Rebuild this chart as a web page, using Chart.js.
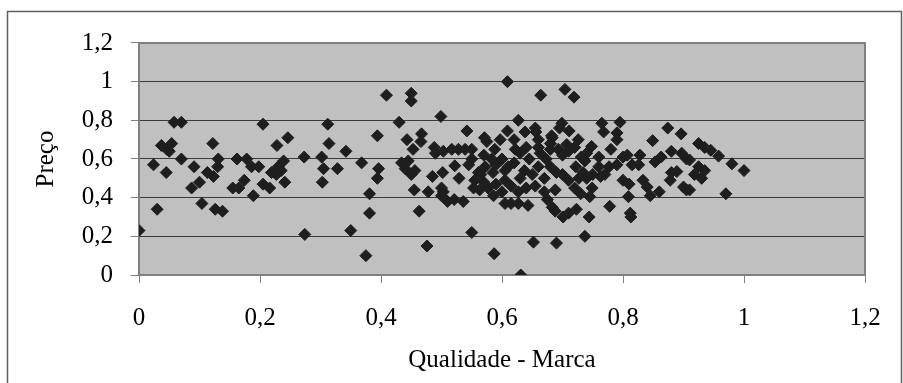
<!DOCTYPE html>
<html>
<head>
<meta charset="utf-8">
<script src="https://cdn.jsdelivr.net/npm/chart.js@4"></script>
<style>
  html, body { margin: 0; padding: 0; background: #fff; }
  #wrap { width: 903px; height: 383px; position: relative; }
</style>
</head>
<body>
<div id="wrap"><canvas id="chart" width="903" height="383"></canvas></div>
<script>
// values
var qualidade = [
  0.00, 0.03, 0.024, 0.045, 0.037, 0.046, 0.054, 0.05, 0.058, 0.07, 0.07, 0.091, 0.087, 0.10, 0.104, 0.113,
  0.123, 0.122, 0.131, 0.13, 0.126, 0.138, 0.155, 0.162, 0.178, 0.186, 0.198, 0.174, 0.165, 0.189, 0.205, 0.205,
  0.216, 0.219, 0.228, 0.246, 0.239, 0.23, 0.227, 0.241, 0.235, 0.273, 0.274, 0.312, 0.314, 0.302, 0.305, 0.303,
  0.328, 0.342, 0.368, 0.35, 0.375, 0.381, 0.381, 0.396, 0.394, 0.394, 0.409, 0.43, 0.45, 0.45, 0.443, 0.467,
  0.466, 0.453, 0.434, 0.445, 0.44, 0.456, 0.45, 0.455, 0.463, 0.476, 0.478, 0.485, 0.499, 0.488, 0.49, 0.503,
  0.502, 0.503, 0.50, 0.51, 0.609, 0.664, 0.627, 0.542, 0.609, 0.571, 0.597, 0.575, 0.638, 0.655, 0.656, 0.682,
  0.517, 0.528, 0.539, 0.55, 0.522, 0.545, 0.529, 0.50, 0.521, 0.536, 0.55, 0.587, 0.631, 0.652, 0.69, 0.561,
  0.555, 0.553, 0.565, 0.572, 0.583, 0.588, 0.60, 0.577, 0.586, 0.563, 0.585, 0.605, 0.61, 0.605, 0.615, 0.627,
  0.643, 0.605, 0.615, 0.627, 0.622, 0.63, 0.64, 0.645, 0.637, 0.63, 0.66, 0.663, 0.673, 0.66, 0.655, 0.67,
  0.675, 0.683, 0.68, 0.68, 0.704, 0.719, 0.737, 0.699, 0.695, 0.711, 0.726, 0.683, 0.693, 0.707, 0.71, 0.70,
  0.71, 0.688, 0.688, 0.701, 0.71, 0.723, 0.744, 0.745, 0.722, 0.731, 0.737, 0.727, 0.734, 0.74, 0.749, 0.748,
  0.76, 0.76, 0.763, 0.765, 0.768, 0.78, 0.777, 0.77, 0.79, 0.795, 0.79, 0.80, 0.79, 0.778, 0.807, 0.80,
  0.81, 0.809, 0.812, 0.813, 0.815, 0.828, 0.826, 0.833, 0.84, 0.845, 0.849, 0.853, 0.86, 0.874, 0.896, 0.863,
  0.88, 0.897, 0.905, 0.91, 0.889, 0.88, 0.878, 0.90, 0.905, 0.91, 0.925, 0.935, 0.945, 0.958, 0.925, 0.935,
  0.918, 0.93, 0.98, 1.00, 0.97, 0.57, 0.59, 0.62, 0.65, 0.67, 0.69, 0.72, 0.73, 0.75, 0.60, 0.64,
  0.70, 0.72, 0.74, 0.66, 0.68, 0.62, 0.57, 0.55, 0.59
];
var preco = [
  0.23, 0.34, 0.57, 0.53, 0.67, 0.65, 0.68, 0.64, 0.79, 0.79, 0.60, 0.56, 0.45, 0.48, 0.37, 0.53,
  0.51, 0.68, 0.60, 0.56, 0.34, 0.33, 0.45, 0.60, 0.60, 0.56, 0.56, 0.49, 0.45, 0.41, 0.78, 0.47,
  0.45, 0.53, 0.67, 0.71, 0.59, 0.56, 0.52, 0.48, 0.54, 0.61, 0.21, 0.78, 0.68, 0.61, 0.55, 0.48,
  0.55, 0.64, 0.58, 0.23, 0.10, 0.32, 0.42, 0.55, 0.50, 0.72, 0.93, 0.79, 0.94, 0.90, 0.70, 0.73,
  0.69, 0.65, 0.58, 0.59, 0.55, 0.54, 0.52, 0.44, 0.33, 0.15, 0.43, 0.51, 0.82, 0.66, 0.63, 0.64,
  0.53, 0.43, 0.41, 0.38, 1.00, 0.93, 0.80, 0.745, 0.745, 0.71, 0.70, 0.69, 0.74, 0.76, 0.74, 0.72,
  0.65, 0.65, 0.65, 0.65, 0.565, 0.57, 0.50, 0.45, 0.39, 0.38, 0.22, 0.11, 0.00, 0.17, 0.165, 0.53,
  0.49, 0.45, 0.52, 0.56, 0.60, 0.65, 0.60, 0.45, 0.41, 0.44, 0.53, 0.54, 0.56, 0.37, 0.37, 0.37,
  0.36, 0.49, 0.46, 0.43, 0.65, 0.63, 0.66, 0.60, 0.54, 0.50, 0.66, 0.63, 0.60, 0.56, 0.46, 0.43,
  0.39, 0.35, 0.65, 0.56, 0.96, 0.92, 0.20, 0.785, 0.76, 0.745, 0.70, 0.71, 0.65, 0.675, 0.64, 0.52,
  0.49, 0.44, 0.33, 0.30, 0.32, 0.34, 0.30, 0.405, 0.56, 0.61, 0.59, 0.50, 0.53, 0.50, 0.45, 0.665,
  0.61, 0.56, 0.51, 0.785, 0.74, 0.65, 0.56, 0.52, 0.735, 0.79, 0.70, 0.61, 0.57, 0.355, 0.62, 0.49,
  0.47, 0.405, 0.32, 0.30, 0.57, 0.62, 0.57, 0.49, 0.455, 0.41, 0.695, 0.585, 0.43, 0.76, 0.73, 0.61,
  0.64, 0.63, 0.60, 0.595, 0.535, 0.53, 0.49, 0.455, 0.44, 0.44, 0.68, 0.66, 0.645, 0.615, 0.56, 0.54,
  0.52, 0.50, 0.575, 0.54, 0.42, 0.48, 0.47, 0.58, 0.52, 0.50, 0.53, 0.45, 0.42, 0.52, 0.43, 0.45,
  0.62, 0.66, 0.63, 0.70, 0.68, 0.70, 0.62, 0.60, 0.57
];
var xTickLabels = ['0', '0,2', '0,4', '0,6', '0,8', '1', '1,2'];
var yTickLabels = ['0', '0,2', '0,4', '0,6', '0,8', '1', '1,2'];

var pontos = qualidade.map(function (q, i) { return { x: q, y: preco[i] }; });

var serif = "'Liberation Serif', 'Times New Roman', serif";

// plot background, plot border and outer frame
var frame = {
  id: 'frame',
  beforeDraw: function (chart) {
    var ctx = chart.ctx, a = chart.chartArea;
    ctx.save();
    ctx.fillStyle = '#c0c0c0';
    ctx.fillRect(a.left, a.top, a.right - a.left, a.bottom - a.top);
    ctx.strokeStyle = '#606060';
    ctx.lineWidth = 1.5;
    ctx.strokeRect(7.5, 11.5, chart.width - 9, chart.height + 10);
    ctx.restore();
  },
  beforeDatasetsDraw: function (chart) {
    var ctx = chart.ctx, a = chart.chartArea;
    ctx.save();
    ctx.strokeStyle = '#808080';
    ctx.lineWidth = 2;
    ctx.strokeRect(a.left, a.top, a.right - a.left, a.bottom - a.top);
    ctx.restore();
  }
};

new Chart(document.getElementById('chart').getContext('2d'), {
  type: 'scatter',
  data: {
    datasets: [{
      data: pontos,
      pointStyle: 'rectRot',
      pointRadius: 6,
      pointHoverRadius: 6,
      backgroundColor: '#1e1e1e',
      borderColor: '#1e1e1e',
      borderWidth: 1
    }]
  },
  options: {
    responsive: false,
    animation: false,
    events: [],
    layout: { padding: { left: 0, top: 43, right: 38, bottom: 0 } },
    plugins: { legend: { display: false }, tooltip: { enabled: false } },
    scales: {
      x: {
        type: 'linear',
        min: 0,
        max: 1.2,
        afterFit: function (s) { s.height = 108; },
        afterBuildTicks: function (s) {
          s.ticks = xTickLabels.map(function (t, i) { return { value: i * 0.2 }; });
        },
        ticks: {
          color: '#000',
          padding: 20,
          maxRotation: 0,
          font: { family: serif, size: 25 },
          callback: function (v, i) { return xTickLabels[i]; }
        },
        grid: { drawOnChartArea: false, drawTicks: true, tickLength: 8, color: '#808080', lineWidth: 1 },
        border: { display: false },
        title: {
          display: true,
          text: 'Qualidade - Marca',
          color: '#000',
          font: { family: serif, size: 25 },
          padding: { top: 0, bottom: 8 }
        }
      },
      y: {
        type: 'linear',
        min: 0,
        max: 1.2,
        afterFit: function (s) { s.width = 139; },
        afterBuildTicks: function (s) {
          s.ticks = yTickLabels.map(function (t, i) { return { value: i * 0.2 }; });
        },
        ticks: {
          color: '#000',
          padding: 18,
          font: { family: serif, size: 25 },
          callback: function (v, i) { return yTickLabels[i]; }
        },
        grid: { drawTicks: true, tickLength: 8, color: '#3a3a3a', tickColor: '#808080', lineWidth: 1 },
        border: { display: false },
        title: {
          display: true,
          text: 'Preço',
          color: '#000',
          font: { family: serif, size: 25 },
          padding: { top: 31, bottom: 0 }
        }
      }
    }
  },
  plugins: [frame]
});
</script>
</body>
</html>
